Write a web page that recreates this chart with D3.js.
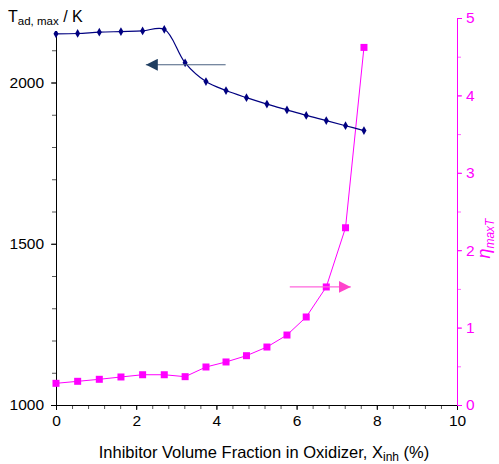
<!DOCTYPE html>
<html>
<head>
<meta charset="utf-8">
<script src="https://cdn.jsdelivr.net/npm/d3@7"></script>
<style>
  body { margin: 0; background: #fff; }
  text { font-family: "Liberation Sans", Arial, sans-serif; }
</style>
</head>
<body>
<div id="chart"></div>
<script>
// inhibitor fraction (%)
var xInh = [0, 0.54, 1.08, 1.62, 2.16, 2.7, 3.22, 3.74, 4.24, 4.75, 5.26, 5.76, 6.24, 6.74, 7.22, 7.68];
// adiabatic max temperature (K)
var tAdMax = [2151, 2152, 2156, 2158, 2160, 2165, 2061, 2003, 1975, 1953, 1933, 1915, 1898, 1882, 1866, 1851];
// eta maxT
var etaMaxT = [0.28, 0.306, 0.332, 0.362, 0.391, 0.391, 0.366, 0.491, 0.556, 0.637, 0.749, 0.904, 1.137, 1.525, 2.29, 4.62];

var xTicks = [0, 2, 4, 6, 8, 10];
var leftTicks = [1000, 1500, 2000];
var rightTicks = [0, 1, 2, 3, 4, 5];

var W = 499, H = 464;
var mLeft = 56, mRight = 457, mTop = 18, mBottom = 405;

var svg = d3.select("#chart").append("svg")
    .attr("width", W)
    .attr("height", H);

var x = d3.scaleLinear().domain([0, 10]).range([mLeft, mRight]);
var yL = d3.scaleLinear().domain([1000, 2200]).range([mBottom, mTop]);
var yR = d3.scaleLinear().domain([0, 5]).range([mBottom, mTop]);
var fmt = d3.format("d");

//minor ticks first
svg.append("g")
    .attr("transform", "translate(0," + mBottom + ")")
    .call(d3.axisBottom(x).tickValues(d3.range(0, 10.01, 0.4)).tickSize(4).tickFormat(""))
    .call(function(g) { g.select(".domain").remove(); g.selectAll("line").attr("stroke", "#555"); });
svg.append("g")
    .attr("transform", "translate(" + mLeft + ",0)")
    .call(d3.axisLeft(yL).tickValues(d3.range(1000, 2201, 100)).tickSize(4).tickFormat(""))
    .call(function(g) { g.select(".domain").remove(); g.selectAll("line").attr("stroke", "#555"); });
svg.append("g")
    .attr("transform", "translate(" + mRight + ",0)")
    .call(d3.axisRight(yR).tickValues(d3.range(0, 5.01, 0.5)).tickSize(4).tickFormat(""))
    .call(function(g) { g.select(".domain").remove(); g.selectAll("line").attr("stroke", "#ff66ff"); });

var xAxis = svg.append("g")
    .attr("transform", "translate(0," + mBottom + ")")
    .call(d3.axisBottom(x).tickValues(xTicks).tickFormat(fmt).tickSize(5).tickPadding(5).tickSizeOuter(0));
xAxis.selectAll("text").attr("font-size", 15.5).attr("fill", "#000").attr("font-family", "Liberation Sans, Arial");
xAxis.selectAll("line, path").attr("stroke", "#000");

var lAxis = svg.append("g")
    .attr("transform", "translate(" + mLeft + ",0)")
    .call(d3.axisLeft(yL).tickValues(leftTicks).tickFormat(fmt).tickSize(5).tickPadding(7).tickSizeOuter(0));
lAxis.selectAll("text").attr("font-size", 15.5).attr("fill", "#000").attr("font-family", "Liberation Sans, Arial");
lAxis.selectAll("line, path").attr("stroke", "#000");

var rAxis = svg.append("g")
    .attr("transform", "translate(" + mRight + ",0)")
    .call(d3.axisRight(yR).tickValues(rightTicks).tickFormat(fmt).tickSize(5).tickPadding(4).tickSizeOuter(0));
rAxis.selectAll("text").attr("font-size", 15.5).attr("fill", "#ff00ff").attr("font-family", "Liberation Sans, Arial");
rAxis.selectAll("line, path").attr("stroke", "#ff00ff");

// eta series
var etaLine = d3.line()
    .x(function(d, i) { return x(xInh[i]); })
    .y(function(d) { return yR(d); });
svg.append("path")
    .attr("d", etaLine(etaMaxT))
    .attr("fill", "none")
    .attr("stroke", "#ff00ff")
    .attr("stroke-width", 1);
svg.selectAll(".sq").data(etaMaxT).enter().append("rect")
    .attr("x", function(d, i) { return x(xInh[i]) - 3.5; })
    .attr("y", function(d) { return yR(d) - 3.5; })
    .attr("width", 7).attr("height", 7)
    .attr("fill", "#ff00ff");

// temperature series, smoothed like the original
var tLine = d3.line()
    .x(function(d, i) { return x(xInh[i]); })
    .y(function(d) { return yL(d); })
    .curve(d3.curveCatmullRom);
svg.append("path")
    .attr("d", tLine(tAdMax))
    .attr("fill", "none")
    .attr("stroke", "#000080")
    .attr("stroke-width", 1.2);
svg.selectAll(".dm").data(tAdMax).enter().append("path")
    .attr("d", d3.symbol().type(d3.symbolDiamond).size(22))
    .attr("transform", function(d, i) { return "translate(" + x(xInh[i]) + "," + yL(d) + ")"; })
    .attr("fill", "#000080");

// arrows
svg.append("defs").call(function(defs) {
    defs.append("marker").attr("id", "headB")
        .attr("viewBox", "0 0 10 10").attr("refX", 10).attr("refY", 5)
        .attr("markerWidth", 12).attr("markerHeight", 12).attr("markerUnits", "userSpaceOnUse")
        .attr("orient", "auto")
        .append("path").attr("d", "M0,0L10,5L0,10Z").attr("fill", "#1f3d60");
    defs.append("marker").attr("id", "headM")
        .attr("viewBox", "0 0 10 10").attr("refX", 10).attr("refY", 5)
        .attr("markerWidth", 12).attr("markerHeight", 12).attr("markerUnits", "userSpaceOnUse")
        .attr("orient", "auto")
        .append("path").attr("d", "M0,0L10,5L0,10Z").attr("fill", "#ff44cc");
});
svg.append("line")
    .attr("x1", x(4.23)).attr("x2", x(2.24))
    .attr("y1", yL(2055)).attr("y2", yL(2055))
    .attr("stroke", "#4a6080").attr("stroke-width", 1.2)
    .attr("marker-end", "url(#headB)");
svg.append("line")
    .attr("x1", x(5.83)).attr("x2", x(7.35))
    .attr("y1", yR(1.525)).attr("y2", yR(1.525))
    .attr("stroke", "#ff66dd").attr("stroke-width", 1.2)
    .attr("marker-end", "url(#headM)");

// axis titles
svg.append("rect").attr("x", 0).attr("y", 0).attr("width", 62).attr("height", 31).attr("fill", "#fff");
var yt = svg.append("text").attr("x", 8).attr("y", 22).attr("font-size", 16).attr("fill", "#000");
yt.append("tspan").text("T");
yt.append("tspan").attr("font-size", 11.5).attr("dy", 3).text("ad, max");
yt.append("tspan").attr("dy", -3).text(" / K");

var xt = svg.append("text").attr("x", 264).attr("y", 458)
    .attr("text-anchor", "middle").attr("font-size", 16.5).attr("fill", "#000");
xt.append("tspan").text("Inhibitor Volume Fraction in Oxidizer, X");
xt.append("tspan").attr("font-size", 12).attr("dy", 2.5).text("inh");
xt.append("tspan").attr("dy", -2.5).text(" (%)");

var rt = svg.append("text")
    .attr("transform", "translate(490," + yR(2.15) + ") rotate(-90)")
    .attr("text-anchor", "middle").attr("font-size", 18).attr("fill", "#ff00ff")
    .attr("font-style", "italic");
rt.append("tspan").text("η");
rt.append("tspan").attr("font-size", 12).attr("dy", 4).text("maxT");
</script>
</body>
</html>
